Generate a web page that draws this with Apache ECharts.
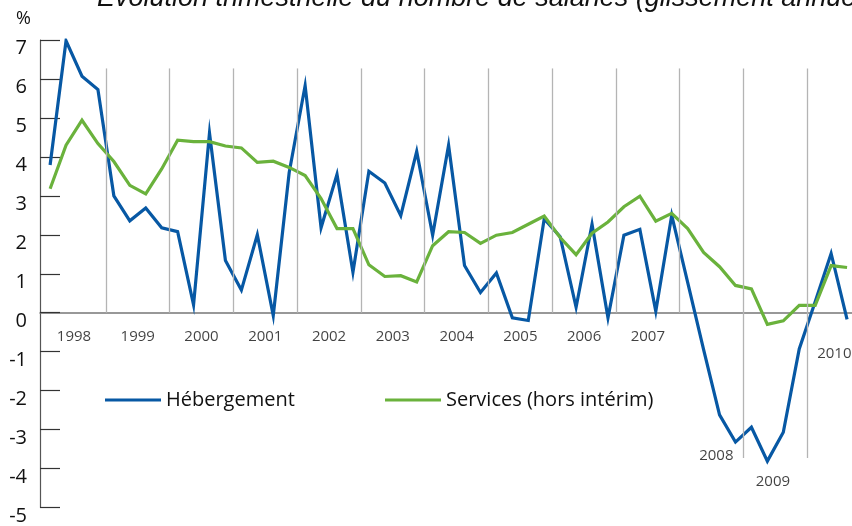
<!DOCTYPE html>
<html>
<head>
<meta charset="utf-8">
<script src="https://cdn.jsdelivr.net/npm/echarts@6/dist/echarts.min.js"></script>
<style>
html,body{margin:0;padding:0;background:#fff;}
#chart{width:852px;height:526px;}
</style>
</head>
<body>
<div id="chart"></div>
<script>
// ---- data ----
const title = 'Évolution trimestrielle du nombre de salariés (glissement annuel)';
const years = ['1998','1999','2000','2001','2002','2003','2004','2005','2006','2007','2008','2009','2010'];
const quarters = years.flatMap(y => ['T1','T2','T3','T4'].map(q => y + ' ' + q)).slice(0, 51);
const hebergement = [3.79, 6.98, 6.07, 5.73, 3.0, 2.36, 2.69, 2.18, 2.08, 0.2,
  4.61, 1.34, 0.58, 2.0, -0.07, 3.6, 5.83, 2.18, 3.55, 1.04,
  3.63, 3.33, 2.49, 4.14, 1.99, 4.3, 1.21, 0.52, 1.02, -0.13,
  -0.2, 2.41, 1.95, 0.14, 2.27, -0.13, 1.99, 2.14, 0.04, 2.5,
  0.78, -0.95, -2.62, -3.32, -2.94, -3.81, -3.07, -0.93, 0.28, 1.52, -0.17];
const services = [3.18, 4.3, 4.94, 4.34, 3.88, 3.27, 3.05, 3.69, 4.43, 4.39,
  4.39, 4.28, 4.23, 3.86, 3.89, 3.73, 3.52, 2.93, 2.16, 2.16,
  1.23, 0.93, 0.95, 0.79, 1.72, 2.08, 2.06, 1.78, 1.99, 2.06,
  2.27, 2.48, 1.93, 1.49, 2.04, 2.33, 2.72, 2.99, 2.35, 2.55,
  2.16, 1.55, 1.18, 0.70, 0.61, -0.30, -0.21, 0.19, 0.19, 1.21, 1.16];
const seriesNames = ['Hébergement', 'Services (hors intérim)'];
const yTicks = {min: -5, max: 7, interval: 1};

// ---- layout constants (not data) ----
const BLUE = '#0758a4', GREEN = '#6ab23c';
const sepTop = 6.27;
const yearLabelDefault = {dx: 0, y: -0.61};
const yearLabelSpecial = {'2008': {dx: 0.3, y: -3.68}, '2009': {dx: -0.15, y: -4.34}, '2010': {dx: -0.3, y: -1.05}};
const deepSeparators = {11: -3.73, 12: -3.73};

const toXY = arr => arr.map((v, i) => [i, v]);

const sepLines = [];
for (let k = 1; k < years.length; k++) {
  const x = 4 * k - 0.5;
  const bottom = deepSeparators[k] !== undefined ? deepSeparators[k] : 0;
  sepLines.push([{coord: [x, sepTop]}, {coord: [x, bottom]}]);
}
const yearLabelData = years.map((y, k) => {
  const o = yearLabelSpecial[y] || yearLabelDefault;
  return {name: y, value: [4 * k + 1.5 + o.dx, o.y]};
});

const FONT = '"Open Sans", "Noto Sans", sans-serif';
const chart = echarts.init(document.getElementById('chart'), null, {renderer: 'canvas'});
chart.setOption({
  animation: false,
  backgroundColor: '#fff',
  graphic: [{
    type: 'text', x: 97, y: 12,
    style: {text: title, font: 'italic 27px "Liberation Sans", Arial, sans-serif', fill: '#111', verticalAlign: 'bottom'}
  }],
  grid: {left: 40, right: 0, top: 40, bottom: 14, containLabel: false},
  legend: [
    {data: [seriesNames[0]], left: 105, top: 390, padding: 0, icon: 'rect', itemWidth: 56, itemHeight: 3,
      textStyle: {fontFamily: FONT, fontSize: 20, color: '#111', lineHeight: 20}},
    {data: [seriesNames[1]], left: 385, top: 390, padding: 0, icon: 'rect', itemWidth: 56, itemHeight: 3,
      textStyle: {fontFamily: FONT, fontSize: 20, color: '#111', lineHeight: 20}}
  ],
  xAxis: {
    type: 'value', min: -0.634, max: 50.31,
    axisLine: {show: true, onZero: true, lineStyle: {color: '#777', width: 1.5}},
    axisTick: {show: false}, axisLabel: {show: false}, splitLine: {show: false}
  },
  yAxis: {
    type: 'value', min: yTicks.min, max: yTicks.max, interval: yTicks.interval,
    name: '%', nameLocation: 'end', nameGap: 21,
    nameTextStyle: {fontFamily: FONT, fontSize: 18, color: '#111', align: 'right', verticalAlign: 'middle', padding: [0, 9, 0, 0]},
    axisLine: {show: true, onZero: false, lineStyle: {color: '#555', width: 1.2}},
    axisTick: {show: true, inside: true, length: 20, lineStyle: {color: '#333', width: 1.2}},
    axisLabel: {fontFamily: FONT, fontSize: 20, color: '#111', margin: 13, verticalAlign: 'top', lineHeight: 17},
    splitLine: {show: false}
  },
  series: [
    {
      name: 'separators', type: 'line', data: [], z: 1, silent: true,
      markLine: {silent: true, symbol: 'none', label: {show: false},
        lineStyle: {color: '#b4b4b4', width: 1.3, type: 'solid'}, data: sepLines}
    },
    {
      name: 'years', type: 'scatter', data: yearLabelData, symbolSize: 1, z: 5, silent: true,
      itemStyle: {color: 'rgba(0,0,0,0)'},
      label: {show: true, position: 'inside', formatter: p => p.name, fontFamily: FONT, fontSize: 15, color: '#111'}
    },
    {
      name: seriesNames[0], type: 'line', data: toXY(hebergement), z: 3,
      symbol: 'none', lineStyle: {color: BLUE, width: 3.2, join: 'miter'}, itemStyle: {color: BLUE}
    },
    {
      name: seriesNames[1], type: 'line', data: toXY(services), z: 3,
      symbol: 'none', lineStyle: {color: GREEN, width: 3.2, join: 'miter'}, itemStyle: {color: GREEN}
    }
  ]
});
</script>
</body>
</html>
